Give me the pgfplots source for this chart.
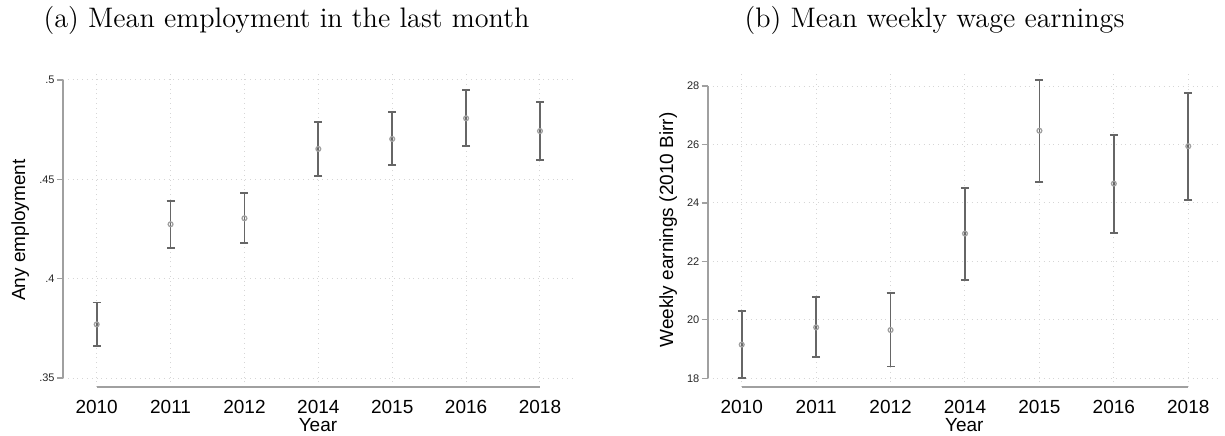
\documentclass[border=0pt]{standalone}
\usepackage{pgfplots}
\pgfplotsset{compat=1.18}
\usepackage{pgfplotstable}
\usepackage{fontspec}
\newfontfamily\arial{Liberation Sans}

\definecolor{axisgray}{HTML}{A0A0A0}
\definecolor{bargray}{HTML}{666666}
\definecolor{markgray}{HTML}{A0A0A0}
\definecolor{gridgray}{HTML}{D6D6D6}

% year index, mean, lower and upper bound of the 95% interval
\pgfplotstableread{
x y lo hi
0 0.3770 0.3660 0.3880
1 0.4274 0.4153 0.4389
2 0.4304 0.4178 0.4430
3 0.4653 0.4517 0.4789
4 0.4703 0.4571 0.4837
5 0.4807 0.4668 0.4948
6 0.4743 0.4597 0.4888
}\employment

\pgfplotstableread{
x y lo hi
0 19.15 18.00 20.31
1 19.74 18.72 20.77
2 19.65 18.40 20.92
3 22.95 21.36 24.52
4 26.47 24.72 28.21
5 24.66 22.97 26.33
6 25.94 24.11 27.75
}\earnings

\pgfplotsset{
  statastyle/.style={
    scale only axis,
    height=157pt,
    axis line style={draw=none},
    xtick={0,...,6},
    xticklabels={2010,2011,2012,2014,2015,2016,2018},
    xtick style={draw=none},
    ytick pos=left,
    ytick style={draw=axisgray, line width=0.7pt},
    tick align=outside,
    major tick length=3pt,
    grid=major,
    grid style={gridgray, dotted, line width=0.5pt},
    /pgf/number format/assume math mode=true,
    xticklabel style={font=\arial\fontsize{9.5}{11}\selectfont, text=black},
    yticklabel style={font=\arial\fontsize{5.5}{6}\selectfont, text=black!85, inner sep=1pt},
    xlabel style={font=\arial\fontsize{9.5}{11}\selectfont, at={(axis description cs:0.5,-0.121)}, anchor=center},
    ylabel style={font=\arial\fontsize{9.5}{11}\selectfont, anchor=center},
    clip=false,
  },
  ebar/.style={
    only marks,
    mark=o,
    mark size=1.2pt,
    mark options={markgray, line width=0.65pt},
    error bars/.cd,
      y dir=both, y explicit,
      error bar style={bargray, line width=0.9pt},
      error mark options={bargray, line width=0.9pt, mark size=2pt, rotate=90},
  },
}

\begin{document}
\begin{tikzpicture}
\useasboundingbox (0,0) rectangle (612.5pt,-217.5pt);

\begin{axis}[statastyle,
  at={(31.5pt,-193.5pt)}, anchor=south west,
  width=255pt,
  xmin=-0.456, xmax=6.447,
  ymin=0.3455, ymax=0.5035,
  ytick={0.35,0.4,0.45,0.5},
  yticklabels={.35,.4,.45,.5},
  xlabel={Year},
  ylabel={Any employment},
  ylabel style={at={(axis description cs:-0.084,0.5)}},
]
\draw[axisgray, line width=0.8pt] (axis cs:-0.456,0.35) -- (axis cs:-0.456,0.5);
\draw[axisgray, line width=0.8pt] (axis cs:0,0.3455) -- (axis cs:6,0.3455);
\addplot[ebar] table[x=x, y=y,
  y error plus expr=\thisrow{hi}-\thisrow{y},
  y error minus expr=\thisrow{y}-\thisrow{lo}] {\employment};
\end{axis}

\begin{axis}[statastyle,
  at={(353.85pt,-193.5pt)}, anchor=south west,
  width=256.65pt,
  xmin=-0.457, xmax=6.44,
  ymin=17.70, ymax=28.445,
  ytick={18,20,...,28},
  xlabel={Year},
  ylabel={Weekly earnings (2010 Birr)},
  ylabel style={at={(axis description cs:-0.077,0.5)}},
]
\draw[axisgray, line width=0.8pt] (axis cs:-0.457,18) -- (axis cs:-0.457,28);
\draw[axisgray, line width=0.8pt] (axis cs:0,17.70) -- (axis cs:6,17.70);
\addplot[ebar] table[x=x, y=y,
  y error plus expr=\thisrow{hi}-\thisrow{y},
  y error minus expr=\thisrow{y}-\thisrow{lo}] {\earnings};
\end{axis}

\node[font=\fontsize{14.1}{16}\selectfont, anchor=base] at (143.25pt,-13.5pt) {(a) Mean employment in the last month};
\node[font=\fontsize{14.1}{16}\selectfont, anchor=base] at (467.25pt,-13.5pt) {(b) Mean weekly wage earnings};
\end{tikzpicture}
\end{document}
